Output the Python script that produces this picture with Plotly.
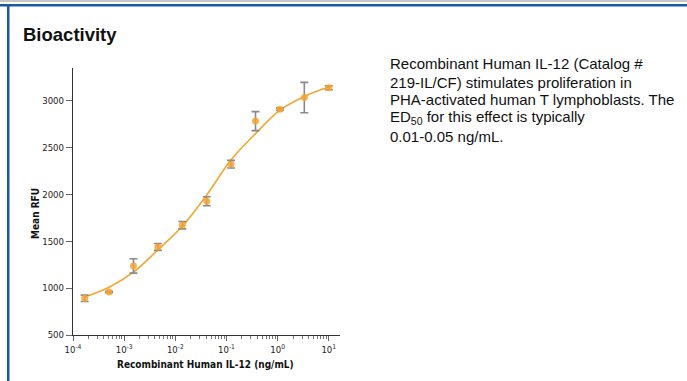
import plotly.graph_objects as go

# ---- data ----
dose = [0.000169, 0.000508, 0.00152, 0.00457, 0.0137, 0.0412, 0.123, 0.370, 1.11, 3.33, 10.0]
mean_rfu = [892, 959, 1237, 1440, 1672, 1928, 2323, 2783, 2911, 3035, 3139]
err_rfu = [34, 8, 77, 37, 39, 48, 41, 101, 13, 162, 21]
fit_rfu = [905, 1010, 1170, 1408, 1660, 1995, 2370, 2650, 2900, 3046, 3146]

decades = [-4, -3, -2, -1, 0, 1]
tick_vals = [10.0 ** d for d in decades]
tick_text = ["10<sup>%d</sup>" % d for d in decades]
minor_vals = [m * 10.0 ** d for d in decades[:-1] for m in range(2, 10)] + [m * 10.0 for m in range(2, 10)]
y_ticks = [500, 1000, 1500, 2000, 2500, 3000]

W, H = 687, 381
L, R, T, B = 73, 340, 68, 335
PW, PH = R - L, B - T


def px(x):
    return (x - L) / PW


def py(y):
    return (B - y) / PH


orange = "#F5A530"
grey = "#8a8a8a"
axis_col = "#333333"
cond = "Liberation Sans Narrow, DejaVu Sans Condensed, Arial Narrow, Liberation Sans, Arial, sans-serif"
arial = "Liberation Sans, Arial, sans-serif"

fig = go.Figure()
fig.add_trace(go.Scatter(
    x=dose, y=fit_rfu, mode="lines", line=dict(color=orange, width=1.6, shape="spline", smoothing=1.0),
    hoverinfo="skip", showlegend=False))
fig.add_trace(go.Scatter(
    x=dose, y=mean_rfu, mode="markers",
    marker=dict(color=orange, size=7, opacity=0.85),
    error_y=dict(type="data", array=err_rfu, color=grey, thickness=1.6, width=4),
    showlegend=False))

fig.update_layout(
    width=W, height=H,
    margin=dict(l=L, r=W - R, t=T, b=H - B),
    paper_bgcolor="white", plot_bgcolor="white",
    font=dict(family=cond, size=10, color="#222222"),
)
fig.update_xaxes(
    type="log", range=[-4, 1.22], showgrid=False, zeroline=False,
    showline=True, linecolor=axis_col, linewidth=1.2,
    tickmode="array", tickvals=tick_vals, ticktext=tick_text,
    ticks="outside", ticklen=5, tickcolor="#666666", tickwidth=1,
    tickfont=dict(family=cond, size=9.5, color="#222222"),
    minor=dict(tickmode="array", tickvals=minor_vals, ticks="outside", ticklen=3, tickcolor="#777777", tickwidth=1),
)
fig.update_yaxes(
    range=[500, 3350], showgrid=False, zeroline=False,
    showline=True, linecolor=axis_col, linewidth=1.2,
    tickmode="array", tickvals=y_ticks,
    ticks="outside", ticklen=6, tickcolor="#666666", tickwidth=1,
    tickfont=dict(family=cond, size=9.5, color="#222222"),
)

# frame decorations
shapes = [
    dict(type="rect", xref="paper", yref="paper", x0=px(0), x1=px(W), y0=py(0), y1=py(2),
         fillcolor="#c6c6c6", line=dict(width=0), layer="above"),
    dict(type="rect", xref="paper", yref="paper", x0=px(0), x1=px(W), y0=py(4), y1=py(6.5),
         fillcolor="#1b5aa3", line=dict(width=0), layer="above"),
    dict(type="rect", xref="paper", yref="paper", x0=px(7), x1=px(9.5), y0=py(4), y1=py(H),
         fillcolor="#1b5aa3", line=dict(width=0), layer="above"),
]
fig.update_layout(shapes=shapes)

ann = []
ann.append(dict(text="<b>Bioactivity</b>", x=px(21), y=py(35), xref="paper", yref="paper",
                xanchor="left", yanchor="middle", showarrow=False,
                font=dict(family=arial, size=18.5, color="#111111")))
ann.append(dict(text="<b>Mean RFU</b>", x=px(35), y=py(214), xref="paper", yref="paper",
                xanchor="center", yanchor="middle", textangle=-90, showarrow=False,
                font=dict(family=cond, size=10, color="#111111")))
ann.append(dict(text="<b>Recombinant Human IL-12 (ng/mL)</b>", x=px(205), y=py(364), xref="paper", yref="paper",
                xanchor="center", yanchor="middle", showarrow=False,
                font=dict(family=cond, size=10, color="#111111")))

lines = [
    "Recombinant Human IL-12 (Catalog #",
    "219-IL/CF) stimulates proliferation in",
    "PHA-activated human T lymphoblasts. The",
    "ED<sub>50</sub> for this effect is typically",
    "0.01-0.05 ng/mL.",
]
line_y = [64, 82, 100, 117.5, 136]
for t, yy in zip(lines, line_y):
    ann.append(dict(text=t, x=px(388), y=py(yy), xref="paper", yref="paper",
                    xanchor="left", yanchor="middle", showarrow=False,
                    font=dict(family=arial, size=15, color="#111111")))
fig.update_layout(annotations=ann)

# remove the browser's default 8px body margin so the figure fills the window
fig.write_html("out.html", config={"displayModeBar": False},
               post_script="document.body.style.margin='0';")
